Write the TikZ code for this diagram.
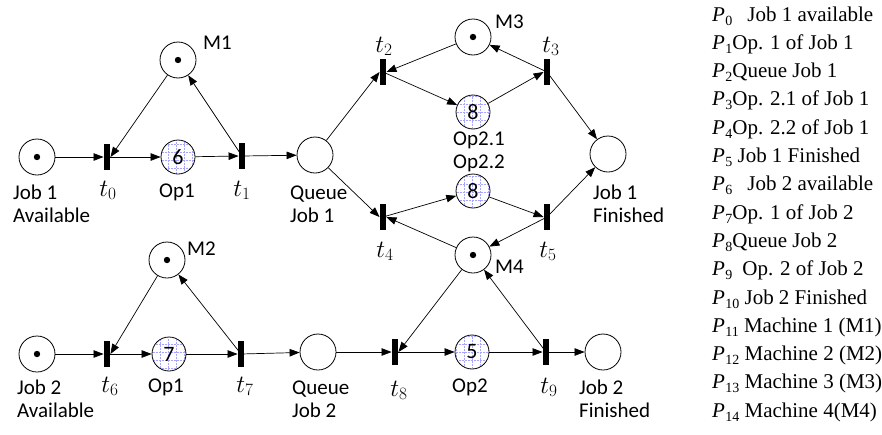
\documentclass[tikz,border=0pt]{standalone}
\usepackage{fontspec}
\setmainfont{Carlito}
\newfontfamily\legfont{Liberation Serif}
\usetikzlibrary{arrows.meta,calc}

% place with a light blue dotted grid inside and a duration number
\newcommand\gridplace[3]{%
  \begin{scope}
    \clip (#2) circle (16.5pt);
    \draw[gridline] ($(#2)+(-24,-24)$) grid[step=8pt] ($(#2)+(24,24)$);
  \end{scope}
  \node[place,minimum size=34pt] (#1) at (#2) {\numfont #3};
}
\newcommand\numfont{\fontsize{22}{24}\selectfont}
\newcommand\Pidx[1]{\textit{P}\kern0.3pt\raisebox{-4pt}{\fontsize{14}{14}\selectfont #1}}

\begin{document}
\begin{tikzpicture}[x=1pt,y=-1pt,
  place/.style={circle,draw,line width=0.8pt,minimum size=36pt,inner sep=0pt},
  trans/.style={rectangle,fill=black,minimum width=6.5pt,minimum height=26pt,inner sep=0pt},
  arc/.style={-{Triangle[length=10pt,width=7.5pt]},line width=0.7pt},
  gridline/.style={draw=blue!35,densely dotted,line width=0.5pt},
  lbl/.style={font=\fontsize{21}{23}\selectfont,align=left,inner sep=0pt},
  tl/.style={font=\fontsize{24}{26}\selectfont,inner sep=0pt,anchor=base},
  leg/.style={font=\legfont\fontsize{21}{24}\selectfont,inner sep=0pt,anchor=base west},
  token/.style={fill=black}]
\useasboundingbox (0,0) rectangle (882,434);

% ---------- places ----------
\node[place] (J1A) at (37,157) {};
\node[place] (Q1)  at (315,155) {};
\node[place] (M1)  at (178,60) {};
\node[place] (M3)  at (473,37) {};
\node[place] (J1F) at (608,154) {};
\node[place] (M2)  at (167,260) {};
\node[place] (J2A) at (37,354) {};
\node[place] (Q2)  at (318,352) {};
\node[place] (M4)  at (473,255) {};
\node[place] (J2F) at (603,352) {};
\gridplace{P1}{178,157}{6}
\gridplace{P3}{473,112}{8}
\gridplace{P4}{473,191}{8}
\gridplace{P7}{169,354}{7}
\gridplace{P9}{472,352}{5}

% tokens
\foreach \p in {J1A,M1,M3,M2,J2A,M4}
  \fill[token] (\p) circle (3.2pt);

% ---------- transitions ----------
\node[trans] (t0) at (107,157) {};
\node[trans] (t1) at (242,156) {};
\node[trans] (t2) at (383,72) {};
\node[trans] (t3) at (547,72) {};
\node[trans] (t4) at (383,217) {};
\node[trans] (t5) at (547,217) {};
\node[trans] (t6) at (107,354) {};
\node[trans] (t7) at (241,354) {};
\node[trans] (t8) at (395,352) {};
\node[trans] (t9) at (546,352) {};

% ---------- arcs: job 1 ----------
\draw[arc] (J1A) -- (t0.west);
\draw[arc] (t0.center) -- (P1);
\draw[arc] (P1) -- (t1.west);
\draw[arc] (t1.center) -- (Q1);
\draw[arc] (M1) -- (t0.east);
\draw[arc] (t1.center) -- (M1);
\draw[arc] (Q1) -- (t2.west);
\draw[arc] (Q1) -- (t4.west);
\draw[arc] (M3) -- (t2.east);
\draw[arc] (t2.center) -- (P3);
\draw[arc] (P3) -- (t3.west);
\draw[arc] (t3.center) -- (M3);
\draw[arc] (t3.center) -- (J1F);
\draw[arc] (t4.center) -- (P4);
\draw[arc] (M4) -- (t4.east);
\draw[arc] (P4) -- (t5.west);
\draw[arc] (t5.center) -- (M4);
\draw[arc] (t5.center) -- (J1F);

% ---------- arcs: job 2 ----------
\draw[arc] (J2A) -- (t6.west);
\draw[arc] (t6.center) -- (P7);
\draw[arc] (P7) -- (t7.west);
\draw[arc] (t7.center) -- (Q2);
\draw[arc] (M2) -- (t6.east);
\draw[arc] (t7.center) -- (M2);
\draw[arc] (Q2) -- (t8.west);
\draw[arc] (t8.center) -- (P9);
\draw[arc] (P9) -- (t9.west);
\draw[arc] (t9.center) -- (J2F);
\draw[arc] (M4) -- (t8.east);
\draw[arc] (t9.center) -- (M4);

% ---------- place labels (base = baseline of the last line) ----------
\node[lbl,anchor=base west] (lJ1A) at (13,222) {Job 1\\Available};
\node[lbl,anchor=base] (lP1) at (177,197) {Op1};
\node[lbl,anchor=base west] (lQ1) at (290,222) {Queue\\Job 1};
\node[lbl,anchor=base west] (lJ1F) at (593,222) {Job 1\\Finished};
\node[lbl,anchor=base] (lP3) at (479,168) {Op2.1\\Op2.2};
\node[lbl,anchor=base west] (lM1) at (203,49) {M1};
\node[lbl,anchor=base west] (lM3) at (495,28) {M3};
\node[lbl,anchor=base west] (lM2) at (187,255) {M2};
\node[lbl,anchor=base west] (lM4) at (495,273) {M4};
\node[lbl,anchor=base west] (lJ2A) at (17,417) {Job 2\\Available};
\node[lbl,anchor=base] (lP7) at (166,392) {Op1};
\node[lbl,anchor=base west] (lQ2) at (292,417) {Queue\\Job 2};
\node[lbl,anchor=base] (lP9) at (470,392) {Op2};
\node[lbl,anchor=base west] (lJ2F) at (579,417) {Job 2\\Finished};

% ---------- transition labels ----------
\node[tl] (lt0) at (108,196) {$t_0$};
\node[tl] (lt1) at (242,196) {$t_1$};
\node[tl] (lt2) at (384,52) {$t_2$};
\node[tl] (lt3) at (551,52) {$t_3$};
\node[tl] (lt4) at (385,257) {$t_4$};
\node[tl] (lt5) at (548,257) {$t_5$};
\node[tl] (lt6) at (110,392) {$t_6$};
\node[tl] (lt7) at (245,392) {$t_7$};
\node[tl] (lt8) at (399,396) {$t_8$};
\node[tl] (lt9) at (549,393) {$t_9$};

% ---------- legend ----------
\foreach \k/\txt in {
  0/{\Pidx{0}\hspace{15pt}Job 1 available},
  1/{\Pidx{1}Op. 1 of Job 1},
  2/{\Pidx{2}Queue Job 1},
  3/{\Pidx{3}Op. 2.1 of Job 1},
  4/{\Pidx{4}Op. 2.2 of Job 1},
  5/{\Pidx{5} Job 1 Finished},
  6/{\Pidx{6}\hspace{15pt}Job 2 available},
  7/{\Pidx{7}Op. 1 of Job 2},
  8/{\Pidx{8}Queue Job 2},
  9/{\Pidx{9}\hspace{10pt}Op. 2 of Job 2},
  10/{\Pidx{10} Job 2 Finished},
  11/{\Pidx{11} Machine 1 (M1)},
  12/{\Pidx{12} Machine 2 (M2)},
  13/{\Pidx{13} Machine 3 (M3)},
  14/{\Pidx{14} Machine 4(M4)}}
  \node[leg] (leg\k) at (712,{21+28.3*\k}) {\txt};
\end{tikzpicture}
\end{document}
